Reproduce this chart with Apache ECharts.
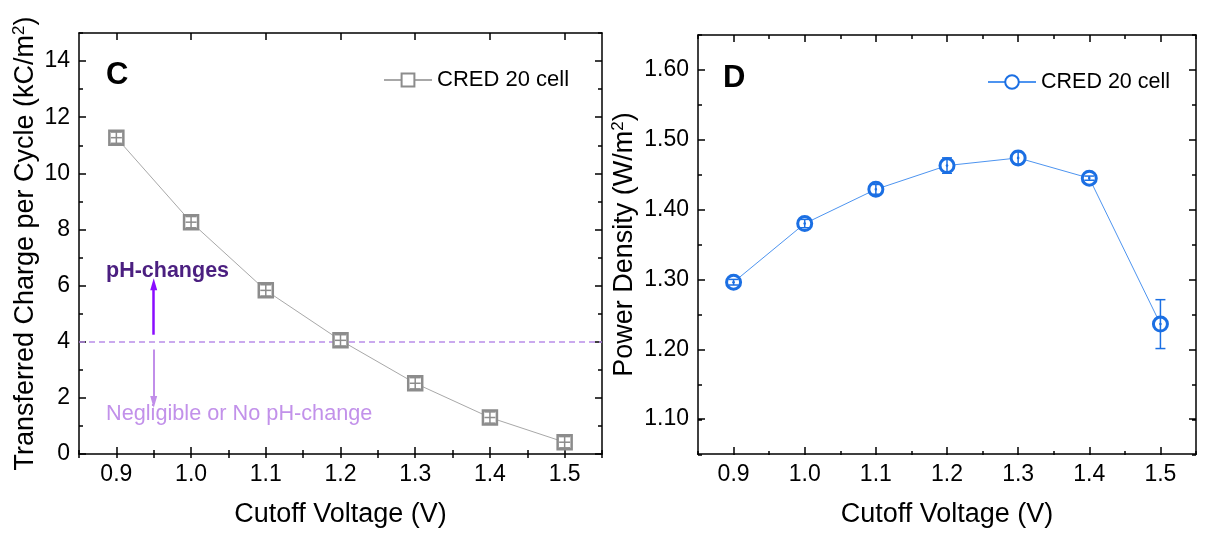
<!DOCTYPE html>
<html>
<head>
<meta charset="utf-8">
<script src="https://cdn.jsdelivr.net/npm/echarts@6/dist/echarts.min.js"></script>
<style>
  html, body { margin: 0; padding: 0; background: #fff; }
  #chart { width: 1225px; height: 533px; }
</style>
</head>
<body>
<div id="chart"></div>
<script>
// data
const voltage = [0.9, 1.0, 1.1, 1.2, 1.3, 1.4, 1.5]
const charge = [11.27, 8.26, 5.83, 4.05, 2.52, 1.30, 0.42]
const chargeErr = [0.2, 0.2, 0.2, 0.2, 0.2, 0.2, 0.2]
const power = [1.296, 1.380, 1.429, 1.463, 1.474, 1.445, 1.236]
const powerErr = [0.004, 0.006, 0.007, 0.011, 0.009, 0.003, 0.035]

const xTicks = [0.9, 1.0, 1.1, 1.2, 1.3, 1.4, 1.5]
const chargeTicks = [0, 2, 4, 6, 8, 10, 12, 14]
const powerTicks = [1.1, 1.2, 1.3, 1.4, 1.5, 1.6]
const pHLimit = 4

const FONT = 'Liberation Sans, Arial, sans-serif'
const grey = '#8c8c8c'
const blue = '#1b6fe3'

const chart = echarts.init(document.getElementById('chart'))

const gridC = { left: 79, top: 33, width: 523, height: 421 }
const gridD = { left: 698, top: 35, width: 498, height: 420 }

// main axis (labels + long ticks)
function mainAxis(grid, pos, min, max, ticks, fmt, name, nameGap) {
  const label = fmt != null
  return {
    type: 'value', gridIndex: grid, position: pos, min, max,
    name: name || '', nameLocation: 'middle', nameGap: nameGap || 0,
    nameTextStyle: {
      fontFamily: FONT, fontSize: 27, color: '#000',
      rich: {
        a: { fontFamily: FONT, fontSize: 27, color: '#000' },
        s: { fontFamily: FONT, fontSize: 17, color: '#000', padding: [0, 0, 13, 0] },
      },
    },
    axisLine: { show: true, onZero: false, lineStyle: { color: '#000', width: 1.5 } },
    axisTick: { show: true, inside: true, length: 7, customValues: ticks, lineStyle: { color: '#000', width: 1.5 } },
    axisLabel: {
      show: label, customValues: ticks, margin: 9,
      fontFamily: FONT, fontSize: 23, color: '#000',
      formatter: v => (label ? v.toFixed(fmt) : ''),
    },
    splitLine: { show: false },
  }
}

// short minor ticks on an overlaid grid
function minorAxis(grid, pos, min, max, step) {
  return {
    type: 'value', gridIndex: grid, position: pos, min, max, interval: step,
    axisLine: { show: false },
    axisTick: { show: true, inside: true, length: 4, lineStyle: { color: '#000', width: 1.5 } },
    axisLabel: { show: false },
    splitLine: { show: false },
  }
}

function errorBars(xi, yi, ys, errs, color, crossed) {
  return {
    type: 'custom', xAxisIndex: xi, yAxisIndex: yi, z: 5, silent: true,
    data: voltage.map((v, i) => [v, ys[i], errs[i]]),
    renderItem: (params, api) => {
      const x = api.value(0), y = api.value(1), e = api.value(2)
      const c = api.coord([x, y])
      const hi = api.coord([x, y + e])
      const lo = api.coord([x, y - e])
      const style = { stroke: color, lineWidth: 1.5 }
      const w = crossed ? 5.5 : 5
      const kids = [
        { type: 'line', shape: { x1: c[0], y1: hi[1], x2: c[0], y2: lo[1] }, style },
        { type: 'line', shape: { x1: c[0] - w, y1: hi[1], x2: c[0] + w, y2: hi[1] }, style },
        { type: 'line', shape: { x1: c[0] - w, y1: lo[1], x2: c[0] + w, y2: lo[1] }, style },
      ]
      if (crossed) {
        kids.push({ type: 'line', shape: { x1: c[0] - w, y1: c[1], x2: c[0] + w, y2: c[1] }, style })
      } else {
        kids.push({ type: 'circle', shape: { cx: c[0], cy: c[1], r: 1.3 }, style: { fill: color } })
      }
      return { type: 'group', children: kids }
    },
  }
}

chart.setOption({
  animation: false,
  backgroundColor: '#fff',
  grid: [
    { ...gridC, containLabel: false },
    { ...gridC, containLabel: false },
    { ...gridD, containLabel: false },
    { ...gridD, containLabel: false },
  ],
  xAxis: [
    mainAxis(0, 'bottom', 0.85, 1.55, xTicks, 1, 'Cutoff Voltage (V)', 47),
    mainAxis(0, 'top', 0.85, 1.55, xTicks, null),
    minorAxis(1, 'bottom', 0.85, 1.55, 0.05),
    minorAxis(1, 'top', 0.85, 1.55, 0.05),
    mainAxis(2, 'bottom', 0.85, 1.55, xTicks, 1, 'Cutoff Voltage (V)', 47),
    mainAxis(2, 'top', 0.85, 1.55, xTicks, null),
    minorAxis(3, 'bottom', 0.85, 1.55, 0.05),
    minorAxis(3, 'top', 0.85, 1.55, 0.05),
  ],
  yAxis: [
    mainAxis(0, 'left', 0, 15, chargeTicks, 0, '{a|Transferred Charge per Cycle (kC/m}{s|2}{a|)}', 38),
    mainAxis(0, 'right', 0, 15, chargeTicks, null),
    minorAxis(1, 'left', 0, 15, 1),
    minorAxis(1, 'right', 0, 15, 1),
    mainAxis(2, 'left', 1.05, 1.65, powerTicks, 2, '{a|Power Density (W/m}{s|2}{a|)}', 58),
    mainAxis(2, 'right', 1.05, 1.65, powerTicks, null),
    minorAxis(3, 'left', 1.05, 1.65, 0.05),
    minorAxis(3, 'right', 1.05, 1.65, 0.05),
  ],
  legend: [
    {
      data: ['C'], left: 378, top: 64, itemWidth: 48, itemHeight: 16, itemGap: 6,
      formatter: () => 'CRED 20 cell',
      textStyle: { fontFamily: FONT, fontSize: 22, color: '#000' },
    },
    {
      data: ['D'], left: 982, top: 66, itemWidth: 48, itemHeight: 17, itemGap: 6,
      formatter: () => 'CRED 20 cell',
      textStyle: { fontFamily: FONT, fontSize: 21.5, color: '#000' },
    },
  ],
  series: [
    {
      name: 'C', type: 'line', xAxisIndex: 0, yAxisIndex: 0, z: 3,
      data: voltage.map((v, i) => [v, charge[i]]),
      symbol: 'rect', symbolSize: 14,
      itemStyle: { color: '#fff', borderColor: grey, borderWidth: 2.5 },
      lineStyle: { color: '#a8a8a8', width: 1 },
      markLine: {
        silent: true, symbol: ['none', 'none'], label: { show: false }, z: 1,
        data: [
          { yAxis: pHLimit, lineStyle: { color: '#b98de9', type: [6, 4], width: 1.5 } },
          [
            { coord: [0.95, 4.25], symbol: 'none', lineStyle: { color: '#8a0cff', width: 2.5, type: 'solid' } },
            { coord: [0.95, 6.05], symbol: 'triangle', symbolSize: [7, 12] },
          ],
          [
            { coord: [0.95, 3.72], symbol: 'none', lineStyle: { color: '#c18ee9', width: 2, type: 'solid' } },
            { coord: [0.95, 1.85], symbol: 'triangle', symbolSize: [7, 12] },
          ],
        ],
      },
    },
    errorBars(0, 0, charge, chargeErr, grey, true),
    {
      name: 'D', type: 'line', xAxisIndex: 4, yAxisIndex: 4, z: 3,
      data: voltage.map((v, i) => [v, power[i]]),
      symbol: 'circle', symbolSize: 14,
      itemStyle: { color: '#fff', borderColor: blue, borderWidth: 3 },
      lineStyle: { color: '#4d94f0', width: 1 },
    },
    errorBars(4, 4, power, powerErr, blue, false),
  ],
  graphic: [
    { type: 'text', left: 106, top: 60, style: { text: 'C', fontFamily: FONT, fontSize: 31, fontWeight: 'bold', fill: '#000' } },
    { type: 'text', left: 723, top: 63, style: { text: 'D', fontFamily: FONT, fontSize: 31, fontWeight: 'bold', fill: '#000' } },
    { type: 'text', left: 106, top: 260, style: { text: 'pH-changes', fontFamily: FONT, fontSize: 21.5, fontWeight: 'bold', fill: '#4b1f80' } },
    { type: 'text', left: 106, top: 403, style: { text: 'Negligible or No pH-change', fontFamily: FONT, fontSize: 21.7, fill: '#c291ea' } },
  ],
})
</script>
</body>
</html>
